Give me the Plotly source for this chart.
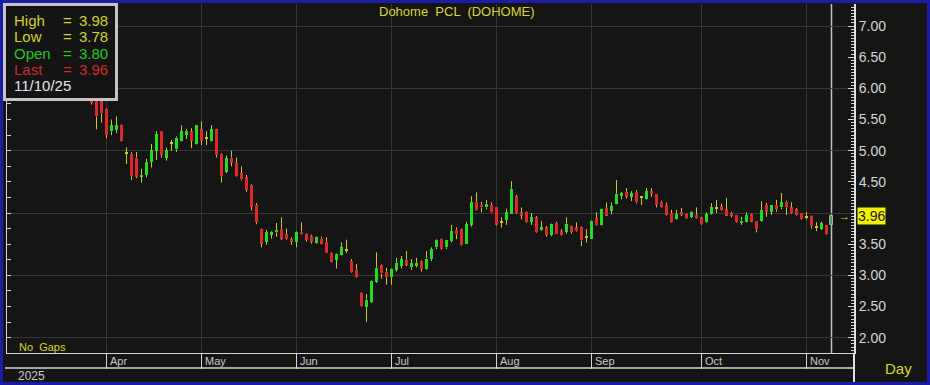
import plotly.graph_objects as go

# ---------------- data (trading-day index, OHLC) ----------------
title_text = "Dohome  PCL  (DOHOME)"
last_date = "11/10/25"
year_label = "2025"
month_names = ["Apr", "May", "Jun", "Jul", "Aug", "Sep", "Oct", "Nov"]
month_start = [3, 22, 41, 60, 81, 100, 122, 143]
label_ticks = [2.0, 2.5, 3.0, 3.5, 4.5, 5.0, 5.5, 6.0, 6.5, 7.0]

opens = [5.95,5.80,5.79,5.67,5.31,5.33,5.41,4.97,4.95,4.89,
 4.59,4.61,4.82,5.00,5.31,4.89,5.12,5.02,5.16,5.25,
 5.31,5.10,5.34,5.21,5.16,5.34,4.95,4.66,4.89,4.80,
 4.64,4.57,4.45,4.13,3.75,3.54,3.65,3.69,3.75,3.66,
 3.58,3.54,3.70,3.66,3.63,3.52,3.59,3.54,3.36,3.25,
 3.33,3.40,3.23,3.09,2.72,2.49,2.58,2.90,3.17,3.06,
 2.97,3.09,3.15,3.25,3.13,3.15,3.23,3.10,3.26,3.45,
 3.58,3.45,3.55,3.73,3.74,3.51,3.81,4.18,4.13,4.09,
 4.13,4.09,3.86,3.89,3.98,4.27,4.01,4.02,3.86,3.93,
 3.73,3.77,3.65,3.84,3.71,3.70,3.79,3.77,3.77,3.62,
 3.59,3.92,3.81,4.08,4.04,4.15,4.27,4.34,4.26,4.34,
 4.25,4.22,4.35,4.31,4.18,4.13,4.00,3.90,4.01,3.98,
 3.94,3.97,3.93,3.85,3.98,4.08,4.11,4.06,4.00,3.97,
 3.84,3.86,3.98,3.88,3.87,4.13,4.02,4.13,4.09,4.18,
 4.09,4.06,4.00,3.94,3.95,3.77,3.75,3.81,3.80]

highs = [6.00,5.85,5.83,5.68,5.50,5.55,5.42,5.05,4.98,4.98,
 4.71,4.87,5.11,5.31,5.31,5.05,5.17,5.23,5.41,5.35,
 5.36,5.41,5.47,5.31,5.41,5.35,4.96,4.92,5.00,4.89,
 4.75,4.61,4.46,4.16,3.76,3.73,3.71,3.84,3.93,3.75,
 3.61,3.71,3.85,3.67,3.65,3.62,3.62,3.61,3.37,3.35,
 3.53,3.57,3.26,3.18,2.73,2.70,2.92,3.37,3.18,3.12,
 3.11,3.28,3.31,3.39,3.26,3.28,3.24,3.39,3.45,3.58,
 3.59,3.56,3.81,3.77,3.75,3.86,4.27,4.33,4.18,4.21,
 4.17,4.09,3.93,4.07,4.51,4.29,4.09,4.03,4.00,3.95,
 3.87,3.79,3.83,3.86,3.74,3.93,3.80,3.85,3.78,3.74,
 3.88,4.01,4.07,4.17,4.17,4.53,4.34,4.40,4.35,4.37,
 4.27,4.40,4.40,4.31,4.20,4.17,4.05,4.05,4.08,3.99,
 4.03,4.09,3.94,4.01,4.16,4.21,4.15,4.24,4.02,3.97,
 3.94,4.01,3.99,3.88,4.19,4.16,4.13,4.21,4.32,4.20,
 4.17,4.08,4.00,4.01,3.96,3.85,3.86,3.81,3.98]

lows = [5.74,5.34,5.45,5.20,5.25,5.28,5.15,4.79,4.53,4.56,
 4.49,4.57,4.73,4.85,4.89,4.84,5.00,4.98,5.15,5.19,
 5.04,5.09,5.09,5.09,5.15,4.89,4.49,4.64,4.75,4.58,
 4.52,4.34,4.04,3.82,3.45,3.49,3.59,3.62,3.57,3.57,
 3.49,3.45,3.65,3.54,3.51,3.51,3.50,3.36,3.21,3.11,
 3.32,3.36,3.04,2.96,2.50,2.25,2.56,2.88,2.95,2.85,
 2.85,3.06,3.11,3.15,3.09,3.13,3.06,3.09,3.23,3.42,
 3.41,3.42,3.53,3.58,3.47,3.51,3.78,4.04,4.01,4.06,
 4.00,3.80,3.77,3.81,3.98,3.99,3.90,3.84,3.81,3.68,
 3.72,3.62,3.63,3.66,3.64,3.67,3.67,3.70,3.47,3.53,
 3.59,3.80,3.80,3.95,3.98,4.14,4.22,4.23,4.19,4.15,
 4.13,4.21,4.26,4.09,4.08,3.96,3.85,3.89,3.95,3.91,
 3.92,3.91,3.81,3.84,3.97,4.00,4.04,3.95,3.93,3.84,
 3.81,3.85,3.85,3.69,3.86,3.94,3.97,4.02,4.06,3.97,
 3.99,3.96,3.89,3.90,3.75,3.71,3.73,3.65,3.78]

closes = [5.77,5.55,5.60,5.25,5.41,5.41,5.16,4.96,4.59,4.58,
 4.61,4.82,5.01,5.27,4.93,5.01,5.12,5.21,5.31,5.32,
 5.16,5.41,5.16,5.21,5.34,4.93,4.59,4.88,4.81,4.59,
 4.54,4.37,4.10,3.85,3.51,3.69,3.70,3.73,3.59,3.58,
 3.54,3.70,3.66,3.57,3.54,3.61,3.51,3.36,3.22,3.34,
 3.45,3.40,3.05,2.97,2.51,2.61,2.91,3.12,3.03,2.97,
 3.10,3.20,3.26,3.17,3.20,3.20,3.10,3.27,3.42,3.57,
 3.42,3.56,3.71,3.66,3.48,3.82,4.18,4.05,4.09,4.15,
 4.01,3.81,3.86,4.01,4.39,4.00,3.96,3.85,3.93,3.69,
 3.77,3.65,3.82,3.66,3.65,3.82,3.70,3.71,3.56,3.62,
 3.87,3.81,4.06,3.96,4.11,4.31,4.32,4.26,4.32,4.17,
 4.25,4.35,4.31,4.13,4.09,3.97,3.86,3.98,3.97,3.92,
 4.02,3.92,3.82,3.98,4.09,4.08,4.05,3.96,3.96,3.85,
 3.88,3.97,3.86,3.74,4.05,4.02,4.13,4.06,4.17,4.09,
 4.00,3.97,3.90,3.94,3.79,3.77,3.84,3.66,3.96]

idx = list(range(len(closes)))

# ---------------- styling ----------------
W, H = 930, 385
ML, MR, MT, MB = 7, 76, 4, 32
PW, PH = W - ML - MR, H - MT - MB
BG = "#151515"
GREEN = "#22dc22"
RED = "#dc2828"
WICK = "#c8c832"
YEL = "#d8d828"
AX = "#d4d4d4"
FONT = "Liberation Sans, Arial, sans-serif"

Y0, Y1 = 1.7546, 7.3529
X0 = -16.9
X1 = X0 + PW / 5.0


def px(xp):
    return (xp - ML) / PW


def py(yp):
    return (H - MB - yp) / PH


# bodies
bases, heights, colors, lw, lc = [], [], [], [], []
for i, (o, c) in enumerate(zip(opens, closes)):
    lo, hi = min(o, c), max(o, c)
    h = hi - lo
    if h < 0.016:
        mid = (o + c) / 2
        lo, h = mid - 0.008, 0.016
        col = WICK
    else:
        col = GREEN if c > o else RED
    bases.append(lo)
    heights.append(h)
    colors.append(col)
    lw.append(0)
    lc.append(col)
# highlight last bar
colors[-1] = "#47a064"
lw[-1] = 1
lc[-1] = "#a8aaa8"

# wicks (upper and lower segments)
wx, wy = [], []
for i in idx:
    top = max(opens[i], closes[i])
    bot = min(opens[i], closes[i])
    if highs[i] > top:
        wx += [i, i, None]
        wy += [highs[i], top, None]
    if lows[i] < bot:
        wx += [i, i, None]
        wy += [bot, lows[i], None]
    if abs(opens[i] - closes[i]) < 0.016:
        wx += [i, i, None]
        wy += [highs[i], lows[i], None]

fig = go.Figure()
fig.add_trace(go.Scatter(x=wx, y=wy, mode="lines",
                         line=dict(color=WICK, width=1),
                         hoverinfo="skip", showlegend=False))
fig.add_trace(go.Bar(x=idx, y=heights, base=bases, width=0.74,
                     marker=dict(color=colors, line=dict(width=lw, color=lc)),
                     hoverinfo="skip", showlegend=False))
fig.add_trace(go.Scatter(x=[idx[-1]], y=[closes[-1]], yaxis="y2", mode="markers",
                         marker=dict(opacity=0), hoverinfo="skip", showlegend=False))

fig.update_layout(
    width=W, height=H, autosize=False,
    margin=dict(l=ML, r=MR, t=MT, b=MB, pad=0),
    paper_bgcolor=BG, plot_bgcolor=BG,
    showlegend=False, bargap=0,
    font=dict(family=FONT, color=AX),
    xaxis=dict(range=[X0, X1], tickvals=month_start, showticklabels=False,
               ticks="outside", ticklen=15, tickcolor=AX, tickwidth=1,
               showgrid=True, gridcolor="#363636", gridwidth=1,
               showline=True, linecolor=AX, linewidth=1, zeroline=False,
               fixedrange=True),
    yaxis=dict(range=[Y0, Y1], side="left", tickvals=[2, 3, 4, 5, 6, 7],
               showticklabels=False, ticks="inside", ticklen=4, tickcolor=AX,
               showgrid=True, gridcolor="#363636", gridwidth=1,
               showline=True, linecolor=AX, linewidth=1, zeroline=False,
               minor=dict(tickvals=[v / 4 for v in range(8, 29)], ticks="inside",
                          ticklen=4, tickcolor=AX, showgrid=False),
               fixedrange=True),
    yaxis2=dict(range=[Y0, Y1], overlaying="y", side="right",
                tickvals=label_ticks, ticktext=[f"{v:.2f}" for v in label_ticks],
                ticks="inside", ticklen=6, tickcolor=AX,
                tickfont=dict(size=14, color=AX, family=FONT),
                showgrid=False, zeroline=False,
                showline=True, linecolor="#e0e0e0", linewidth=2,
                minor=dict(dtick=0.05, tick0=0, ticks="inside", ticklen=3,
                           tickcolor=AX, showgrid=False),
                fixedrange=True),
)

shapes = []
# last-bar cursor line
shapes.append(dict(type="line", xref="x", yref="paper", x0=idx[-1], x1=idx[-1],
                   y0=0, y1=1, line=dict(color="#c0c0c0", width=1.5), layer="between"))
# month row bottom line
shapes.append(dict(type="line", xref="paper", yref="paper", x0=px(5), x1=1,
                   y0=py(368), y1=py(368), line=dict(color=AX, width=1.5)))
# right axis extension down to bottom
shapes.append(dict(type="line", xref="paper", yref="paper", x0=1, x1=1,
                   y0=py(383), y1=0, line=dict(color="#e0e0e0", width=2)))
# info box
shapes.append(dict(type="rect", xref="paper", yref="paper", x0=px(4.5), x1=px(116.5),
                   y0=py(99.5), y1=py(4.5), fillcolor="#141414",
                   line=dict(color="#c4c4c4", width=3), layer="above"))
# outer blue frame
shapes.append(dict(type="rect", xref="paper", yref="paper", x0=px(0), x1=px(W),
                   y0=py(H), y1=py(0), fillcolor="rgba(0,0,0,0)",
                   line=dict(color="#1c1ca6", width=6), layer="above"))

ann = []


def txt(t, x, y, color, size=14, xa="left", ya="middle", xref="paper", yref="paper", **kw):
    ann.append(dict(text=t, x=x, y=y, xref=xref, yref=yref, xanchor=xa, yanchor=ya,
                    showarrow=False, font=dict(family=FONT, size=size, color=color), **kw))


# title
txt(title_text, px(457), py(12), YEL, 13, xa="center")
# info box texts
info = [("High", highs[-1], "#d2d22a"), ("Low", lows[-1], "#d2d22a"),
        ("Open", opens[-1], "#22c822"), ("Last", closes[-1], "#cc2a2a")]
for j, (lab, val, col) in enumerate(info):
    yy = 20.5 + j * 16.3
    txt(lab, px(12), py(yy), col, 15)
    txt("=", px(67), py(yy), col, 15, xa="center")
    txt(f"{val:.2f}", px(110), py(yy), col, 15, xa="right")
txt(last_date, px(12), py(86), "#e4e4ec", 15)
# no gaps
txt("No  Gaps", px(17), py(347), YEL, 11)
# month labels
for name, m in zip(month_names, month_start):
    txt(name, m, py(361), "#c8c8c8", 11, xref="x", xshift=1)
# year
txt(year_label, px(16), py(375.5), "#c8c8c8", 12)
# Day
txt("Day", px(898), py(369), YEL, 15, xa="center")
# last price marker
txt(f"{closes[-1]:.2f}", px(857), closes[-1], "#202020", 14, yref="y2",
    bgcolor="#f2f200", borderpad=0)
txt("\u2192", px(844), closes[-1], "#e0e020", 11, xa="center", yref="y2")

fig.update_layout(shapes=shapes, annotations=ann)
fig.write_html("out.html")
